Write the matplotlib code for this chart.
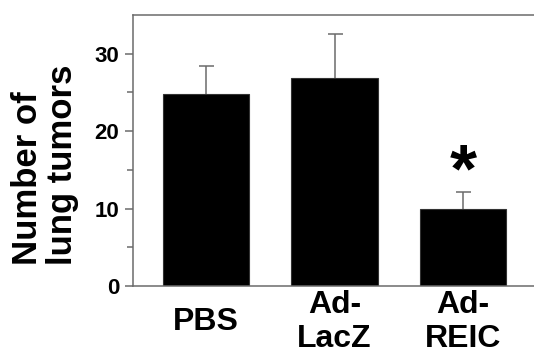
import numpy as np
import matplotlib as mpl
mpl.use("Agg")
import matplotlib.pyplot as plt

# data
groups = ["PBS", "Ad-\nLacZ", "Ad-\nREIC"]
means = [24.8, 26.8, 9.9]
errors = [3.6, 5.7, 2.2]
yticks = [0, 10, 20, 30]

plt.rcParams['font.family'] = ['Liberation Sans', 'DejaVu Sans']
plt.rcParams['font.weight'] = 'bold'

grey = '#6b6b6b'
fig = plt.figure(figsize=(5.34, 3.53), dpi=100)
ax = fig.add_axes([0.249, 0.19, 0.751, 0.7675])

x = np.arange(len(groups))
ax.bar(x, means, width=0.67, color='black', edgecolor='#333333', linewidth=0.8, zorder=2)
eb = ax.errorbar(x, means, yerr=[np.zeros(len(errors)), errors], fmt='none',
                 ecolor=grey, elinewidth=1.1, capsize=5.4, capthick=1.1, zorder=1)
eb[1][0].set_visible(False)  # no cap at the bar top

# significance marker above the Ad-REIC bar
ax.text(2, means[2] + errors[2] - 1.7, '*', ha='center', va='bottom',
        fontsize=50, fontweight='bold')

ax.set_xlim(-0.567, 2.55)
ax.set_ylim(0, 35)
ax.set_yticks(yticks)
ax.set_yticks([5, 15, 25], minor=True)
ax.set_xticks(x)
ax.set_xticklabels(groups, fontsize=23, fontweight='bold', linespacing=1.15)
for lab in ax.get_xticklabels():
    lab.set_va('center')
ax.tick_params(axis='x', length=0, pad=26)
ax.tick_params(axis='y', which='major', length=6, width=1.1, color=grey,
               labelsize=16, pad=4)
ax.tick_params(axis='y', which='minor', length=4, width=1.1, color=grey)
for lab in ax.get_yticklabels():
    lab.set_fontweight('bold')

for s in ['left', 'bottom', 'top']:
    ax.spines[s].set_color(grey)
    ax.spines[s].set_linewidth(1.1)
ax.spines['right'].set_visible(False)

fig.text(45 / 534, 1 - 165 / 353, "Number of\nlung tumors", rotation=90,
         ha='center', va='center', multialignment='left', fontsize=25,
         fontweight='bold', linespacing=1.05)

fig.savefig("out.png", dpi=100)
